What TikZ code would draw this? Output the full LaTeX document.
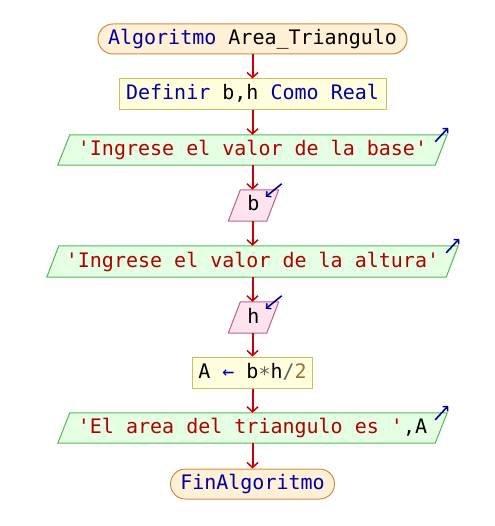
\documentclass[tikz,border=0pt]{standalone}
\usepackage{fontspec}
\setmonofont{DejaVu Sans Mono}
\usetikzlibrary{arrows.meta}
\definecolor{kw}{RGB}{0,0,160}
\definecolor{str}{RGB}{176,0,0}
\definecolor{num}{RGB}{160,112,48}
\definecolor{opc}{RGB}{96,96,96}
\definecolor{termfill}{RGB}{255,240,214}
\definecolor{termdraw}{RGB}{204,144,64}
\definecolor{procfill}{RGB}{255,255,221}
\definecolor{procdraw}{RGB}{200,192,96}
\definecolor{outfill}{RGB}{228,255,228}
\definecolor{outdraw}{RGB}{84,184,84}
\definecolor{infill}{RGB}{255,228,240}
\definecolor{indraw}{RGB}{192,96,136}
\definecolor{flowred}{RGB}{204,0,0}
\definecolor{icon}{RGB}{0,0,150}
\pgfdeclarelayer{bg}
\pgfsetlayers{bg,main}
\newcommand\paraframe[3]{%
  \begin{pgfonlayer}{bg}
  \path[draw=#2, fill=#3, line width=1pt] (#1.south west) -- ([xshift=12pt]#1.north west) -- (#1.north east) -- ([xshift=-12pt]#1.south east) -- cycle;
  \end{pgfonlayer}}
\begin{document}
\begin{tikzpicture}[x=1pt,y=-1pt,
  base/.style={inner sep=0pt, font=\ttfamily\fontsize{20}{24}\selectfont, text height=14.6pt, text depth=3.6pt, anchor=center},
  term/.style={base, draw=termdraw, fill=termfill, rounded corners=15pt, minimum height=30pt, line width=1pt},
  proc/.style={base, draw=procdraw, fill=procfill, minimum height=31pt, line width=1pt},
  para/.style={base},
  flow/.style={draw=flowred, line width=2pt, -{Straight Barb[length=5pt,width=11pt,line width=1.5pt]}},
  iconarrow/.style={draw=icon, line width=1.6pt, -{Straight Barb[length=3.5pt,width=7pt,line width=1.4pt]}}
  ]
\begin{pgfonlayer}{bg}
\useasboundingbox[fill=white] (0,0) rectangle (494,526);
\end{pgfonlayer}
\node[term, minimum width=309pt] (start) at (252.5,39) {\textcolor{kw}{Algoritmo} Area\_Triangulo};
\node[proc, minimum width=267pt] (def) at (252.5,94.5) {\textcolor{kw}{Definir} b,h \textcolor{kw}{Como Real}};
\node[para, minimum width=389pt, minimum height=30pt] (out1) at (252.5,150) {\textcolor{str}{'Ingrese el valor de la base'}};
\paraframe{out1}{outdraw}{outfill}
\node[para, minimum width=50pt, minimum height=31pt] (inb) at (253.5,205.5) {b};
\paraframe{inb}{indraw}{infill}
\node[para, minimum width=411pt, minimum height=31pt] (out2) at (252.5,261.5) {\textcolor{str}{'Ingrese el valor de la altura'}};
\paraframe{out2}{outdraw}{outfill}
\node[para, minimum width=50pt, minimum height=31pt] (inh) at (253.5,317.5) {h};
\paraframe{inh}{indraw}{infill}
\node[proc, minimum width=120pt] (assign) at (252.5,372.5) {A \textcolor{kw}{←} b\textcolor{opc}{\raisebox{-3pt}{*}}h\textcolor{opc}{/}\textcolor{num}{2}};
\node[para, minimum width=389pt, minimum height=30pt] (out3) at (252.5,428) {\textcolor{str}{'El area del triangulo es '},A};
\paraframe{out3}{outdraw}{outfill}
\node[term, minimum width=164pt] (fin) at (252.5,484) {\textcolor{kw}{FinAlgoritmo}};
% connectors
\draw[flow] (start.south) -- (def.north);
\draw[flow] (def.south) -- (out1.north);
\draw[flow] (out1.south) -- (out1.south |- inb.north);
\draw[flow] (inb.south -| out1.south) -- (out2.north);
\draw[flow] (out2.south) -- (out2.south |- inh.north);
\draw[flow] (inh.south -| out2.south) -- (assign.north);
\draw[flow] (assign.south) -- (out3.north);
\draw[flow] (out3.south) -- (fin.north);
% io icons
\draw[iconarrow] ([shift={(-12,7)}]out1.north east) -- ([shift={(1,-7)}]out1.north east);
\draw[iconarrow] ([shift={(-12,7)}]out2.north east) -- ([shift={(1,-7)}]out2.north east);
\draw[iconarrow] ([shift={(-12,7)}]out3.north east) -- ([shift={(1,-7)}]out3.north east);
\draw[iconarrow] ([shift={(3,-6)}]inb.north east) -- ([shift={(-13,7)}]inb.north east);
\draw[iconarrow] ([shift={(3,-6)}]inh.north east) -- ([shift={(-13,7)}]inh.north east);
\end{tikzpicture}
\end{document}
